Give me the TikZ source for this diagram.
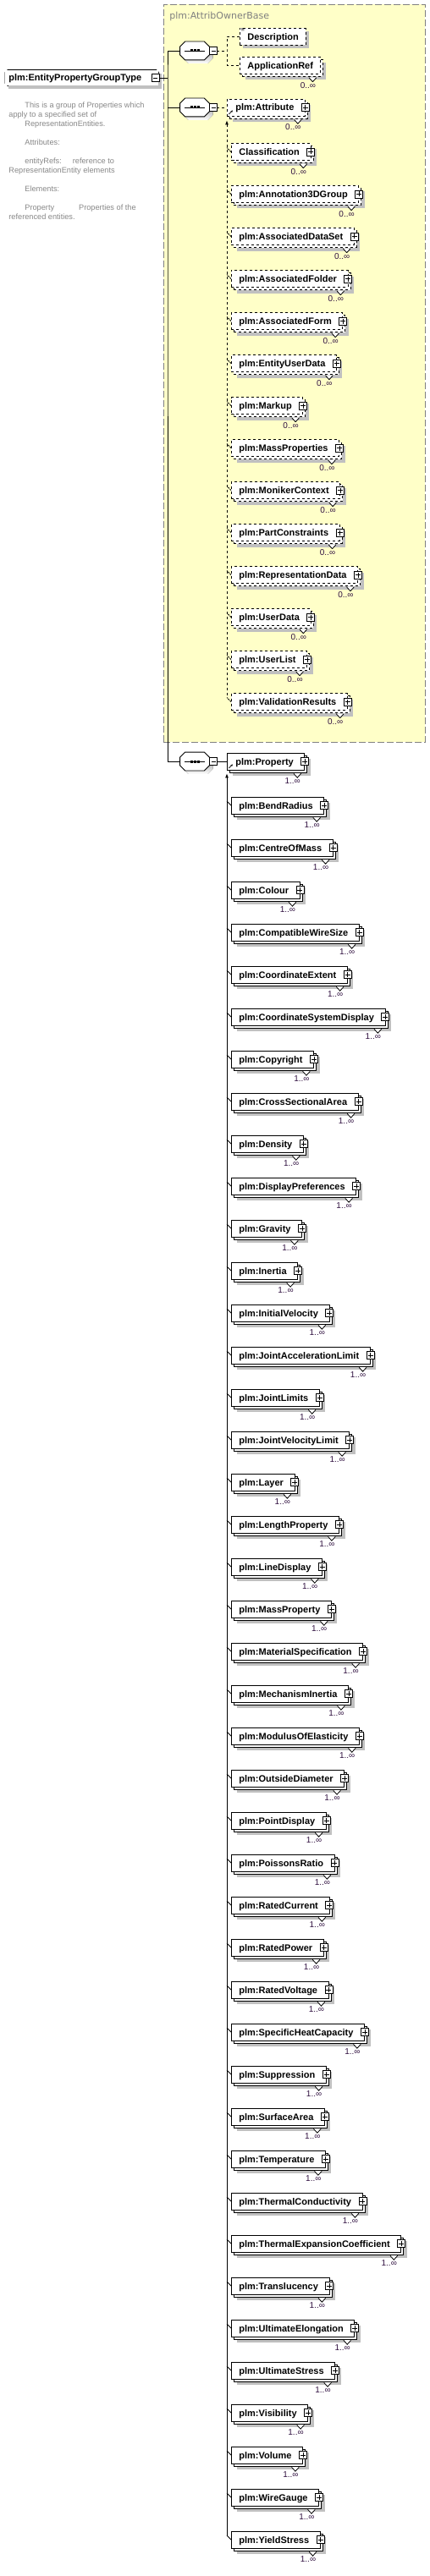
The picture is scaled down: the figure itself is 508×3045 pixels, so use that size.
\documentclass[tikz,border=0pt]{standalone}
\usepackage{fontspec}
\setmainfont{Liberation Sans}
\newfontfamily\titlefont{DejaVu Sans}
\usetikzlibrary{shadows,arrows.meta}

\definecolor{basefill}{RGB}{255,255,200}
\definecolor{shade}{RGB}{192,192,192}
\definecolor{multc}{RGB}{48,16,64}
\definecolor{doctext}{RGB}{135,135,135}

\begin{document}
\begin{tikzpicture}[x=1pt, y=-1pt, line width=0.8pt,
  box/.style={draw, fill=white, font=\bfseries\fontsize{11}{13}\selectfont,
    inner sep=0pt, minimum height=20pt, text height=8pt, text depth=0pt,
    anchor=west, execute at begin node=\hspace*{9pt}},
  cplx/.style={execute at end node=\hspace*{13pt},
    label={[plusbox, anchor=center]east:}},
  simp/.style={execute at end node=\hspace*{8pt}},
  alone/.style={drop shadow={shadow xshift=4pt, shadow yshift=-4pt,
    fill=shade, opacity=1, draw=none}},
  stack/.style={drop shadow={shadow xshift=7pt, shadow yshift=-7pt,
    fill=shade, opacity=1, draw=none},
    copy shadow={shadow xshift=3pt, shadow yshift=-3pt, fill=white,
    draw=black, #1}, label={[notch]south east:}},
  stack/.default=solid,
  opt/.style={box, dashed, stack=dashed, label={[mult]south east:0..∞}},
  req/.style={box, stack, label={[mult]south east:1..∞}},
  head/.style={execute at begin node=\hspace*{1pt}, path picture={
    \draw[solid, -{Stealth[length=2.5pt,width=2.5pt]}]
      ([shift={(2pt,2pt)}]path picture bounding box.south west) -- ++(4.5pt,4.5pt);}},
  tick/.style={append after command={(\tikzlastnode.west)
    edge[#1] +(-5pt,5pt)}},
  optmem/.style={tick={dash pattern=on 2pt off 1pt}, opt, cplx},
  reqmem/.style={tick=solid, req, cplx},
  plusbox/.style={draw, solid, fill=white, minimum size=9pt, inner sep=0pt,
    path picture={
      \draw ([xshift=-3pt]path picture bounding box.center) -- ([xshift=3pt]path picture bounding box.center)
        ([yshift=-3pt]path picture bounding box.center) -- ([yshift=3pt]path picture bounding box.center);}},
  minusbox/.style={draw, solid, fill=white, minimum size=9pt, inner sep=0pt,
    path picture={
      \draw ([xshift=-2.5pt]path picture bounding box.center) -- ([xshift=2.5pt]path picture bounding box.center);}},
  notch/.style={solid, inner sep=0pt, minimum width=9pt, minimum height=5pt,
    anchor=north, xshift=-9pt, yshift=-3.4pt,
    path picture={
      \fill[white] (path picture bounding box.north west) -- (path picture bounding box.south)
        -- (path picture bounding box.north east) -- cycle;
      \draw (path picture bounding box.north west) -- (path picture bounding box.south)
        -- (path picture bounding box.north east);}},
  mult/.style={font=\fontsize{10}{12}\selectfont, text=multc, inner sep=0pt,
    anchor=north east, xshift=-5pt, yshift=-9pt},
  docicon/.style={font=\fontsize{7}{7}\selectfont, inner sep=0pt,
    anchor=north west, xshift=1.5pt},
  octo/.style 2 args={insert path={([xshift=#2]#1.north west) -- ([xshift=-#2]#1.north east)
    -- ([yshift=-#2]#1.north east) -- ([yshift=#2]#1.south east) -- ([xshift=-#2]#1.south east)
    -- ([xshift=#2]#1.south west) -- ([yshift=#2]#1.south west) -- ([yshift=-#2]#1.north west) -- cycle}},
  seq/.style={minimum width=34pt, minimum height=21pt, inner sep=0pt,
    append after command={\pgfextra{
      \fill[shade, transform canvas={shift={(4pt,-4pt)}}, octo={\tikzlastnode}{6pt}];
      \draw[fill=white, octo={\tikzlastnode}{6pt}];
      \draw ([xshift=-12pt]\tikzlastnode.center) -- ([xshift=12pt]\tikzlastnode.center);
      \foreach \d in {-5.5,-1.5,2.5}
        \fill[black] ([xshift=\d pt, yshift=-1.5pt]\tikzlastnode.center) rectangle ++(3pt,3pt);}},
    label={[minusbox, anchor=west]east:}},
  rootbox/.style={fill=white, font=\bfseries\fontsize{11}{13}\selectfont,
    inner sep=0pt, minimum height=18pt, text height=8pt, text depth=0pt, alone,
    execute at begin node=\hspace*{4pt}, execute at end node=\hspace*{20pt},
    append after command={\pgfextra{\draw[octo={\tikzlastnode}{3pt}];}},
    label={[minusbox, anchor=center, xshift=-4pt]east:}},
  basebox/.style={draw=gray, fill=basefill, dash pattern=on 8pt off 3pt,
    inner sep=0pt},
  doc/.style={anchor=north west, align=left, inner sep=0pt, text=doctext,
    font=\fontsize{9.2}{11}\selectfont},
]
\useasboundingbox (0,0) rectangle (508,3045);

% Base type frame
\node[basebox, anchor=north west, minimum width=309pt, minimum height=872pt] (base) at (193,5) {};
\node[font=\titlefont\fontsize{11}{13}\selectfont, text=gray, anchor=base west, inner sep=0pt] (basetitle) at (200,23) {plm:AttribOwnerBase};

% Root element and its documentation
\node[rootbox, anchor=west] (root) at (6,92) {plm:EntityPropertyGroupType};
\node[doc] (note) at (10,120) {\hspace*{19pt}This is a group of Properties which\\
apply to a specified set of\\
\hspace*{19pt}RepresentationEntities.\\[11pt]
\hspace*{19pt}Attributes:\\[11pt]
\hspace*{19pt}entityRefs:\hspace{13pt}reference to\\
RepresentationEntity elements\\[11pt]
\hspace*{19pt}Elements:\\[11pt]
\hspace*{19pt}Property\hspace{29pt}Properties of the\\
referenced entities.};

% Sequences
\node[seq] (seq1) at (230,60) {};
\node[seq] (seq2) at (230,127) {};
\node[seq] (seq3) at (230,900) {};

% Inherited content
\node[box, simp, alone, dashed, label={[docicon]north west:≡}] (desc) at (283,43.5) {Description};
\node[opt, simp] (appref) at (283,77.5) {ApplicationRef};
\node[opt, cplx, head] (attr) at (268,127) {plm:Attribute};
\node[optmem] (cls) at (273,179.5) {Classification};
\node[optmem] (ann3d) at (273,229.5) {plm:Annotation3DGroup};
\node[optmem] (dataset) at (273,279.5) {plm:AssociatedDataSet};
\node[optmem] (folder) at (273,329.5) {plm:AssociatedFolder};
\node[optmem] (form) at (273,379.5) {plm:AssociatedForm};
\node[optmem] (entud) at (273,429.5) {plm:EntityUserData};
\node[optmem] (markup) at (273,479.5) {plm:Markup};
\node[optmem] (massprops) at (273,529.5) {plm:MassProperties};
\node[optmem] (moniker) at (273,579.5) {plm:MonikerContext};
\node[optmem] (partcons) at (273,629.5) {plm:PartConstraints};
\node[optmem] (repdata) at (273,679.5) {plm:RepresentationData};
\node[optmem] (userdata) at (273,729.5) {plm:UserData};
\node[optmem] (userlist) at (273,779.5) {plm:UserList};
\node[optmem] (valres) at (273,829.5) {plm:ValidationResults};

% Property substitution group
\node[req, cplx, head] (prop) at (268,900) {plm:Property};
\node[reqmem] (bend) at (273,952) {plm:BendRadius};
\node[reqmem] (com) at (273,1002) {plm:CentreOfMass};
\node[reqmem] (colour) at (273,1052) {plm:Colour};
\node[reqmem] (wiresize) at (273,1102) {plm:CompatibleWireSize};
\node[reqmem] (extent) at (273,1152) {plm:CoordinateExtent};
\node[reqmem] (csdisp) at (273,1202) {plm:CoordinateSystemDisplay};
\node[reqmem] (copyr) at (273,1252) {plm:Copyright};
\node[reqmem] (xsect) at (273,1302) {plm:CrossSectionalArea};
\node[reqmem] (density) at (273,1352) {plm:Density};
\node[reqmem] (dispref) at (273,1402) {plm:DisplayPreferences};
\node[reqmem] (gravity) at (273,1452) {plm:Gravity};
\node[reqmem] (inertia) at (273,1502) {plm:Inertia};
\node[reqmem] (initvel) at (273,1552) {plm:InitialVelocity};
\node[reqmem] (jointacc) at (273,1602) {plm:JointAccelerationLimit};
\node[reqmem] (jointlim) at (273,1652) {plm:JointLimits};
\node[reqmem] (jointvel) at (273,1702) {plm:JointVelocityLimit};
\node[reqmem] (layer) at (273,1752) {plm:Layer};
\node[reqmem] (lenprop) at (273,1802) {plm:LengthProperty};
\node[reqmem] (linedisp) at (273,1852) {plm:LineDisplay};
\node[reqmem] (massprop) at (273,1902) {plm:MassProperty};
\node[reqmem] (matspec) at (273,1952) {plm:MaterialSpecification};
\node[reqmem] (mechin) at (273,2002) {plm:MechanismInertia};
\node[reqmem] (modulus) at (273,2052) {plm:ModulusOfElasticity};
\node[reqmem] (outdia) at (273,2102) {plm:OutsideDiameter};
\node[reqmem] (ptdisp) at (273,2152) {plm:PointDisplay};
\node[reqmem] (poisson) at (273,2202) {plm:PoissonsRatio};
\node[reqmem] (ratedi) at (273,2252) {plm:RatedCurrent};
\node[reqmem] (ratedp) at (273,2302) {plm:RatedPower};
\node[reqmem] (ratedv) at (273,2352) {plm:RatedVoltage};
\node[reqmem] (spheat) at (273,2402) {plm:SpecificHeatCapacity};
\node[reqmem] (suppr) at (273,2452) {plm:Suppression};
\node[reqmem] (surfarea) at (273,2502) {plm:SurfaceArea};
\node[reqmem] (temp) at (273,2552) {plm:Temperature};
\node[reqmem] (thcond) at (273,2602) {plm:ThermalConductivity};
\node[reqmem] (thexp) at (273,2652) {plm:ThermalExpansionCoefficient};
\node[reqmem] (transl) at (273,2702) {plm:Translucency};
\node[reqmem] (ultelong) at (273,2752) {plm:UltimateElongation};
\node[reqmem] (ultstress) at (273,2802) {plm:UltimateStress};
\node[reqmem] (visib) at (273,2852) {plm:Visibility};
\node[reqmem] (volume) at (273,2902) {plm:Volume};
\node[reqmem] (wiregauge) at (273,2952) {plm:WireGauge};
\node[reqmem] (yield) at (273,3002) {plm:YieldStress};

% Connectors
\coordinate (trunk) at (198,92);
\coordinate (fork) at (268,60);
\draw (root.east) -- (trunk);
\draw (seq1.west) -| (trunk) |- (seq3.west);
\draw (seq2.west) -- (seq2.west -| trunk);
\draw[dashed] ([xshift=9pt]seq1.east) -- (fork);
\draw[dashed] (desc.west) -| (fork) |- (appref.west);
\draw[dashed] ([xshift=9pt]seq2.east) -- (attr.west);
\draw[dashed, {Latex[length=5pt,width=4pt]}-] ([yshift=-5pt]attr.south west) -- ([shift={(-5pt,5pt)}]valres.west);
\draw ([xshift=9pt]seq3.east) -- (prop.west);
\draw[{Latex[length=5pt,width=4pt]}-] ([yshift=-4pt]prop.south west) -- ([shift={(-5pt,5pt)}]yield.west);

\end{tikzpicture}
\end{document}
